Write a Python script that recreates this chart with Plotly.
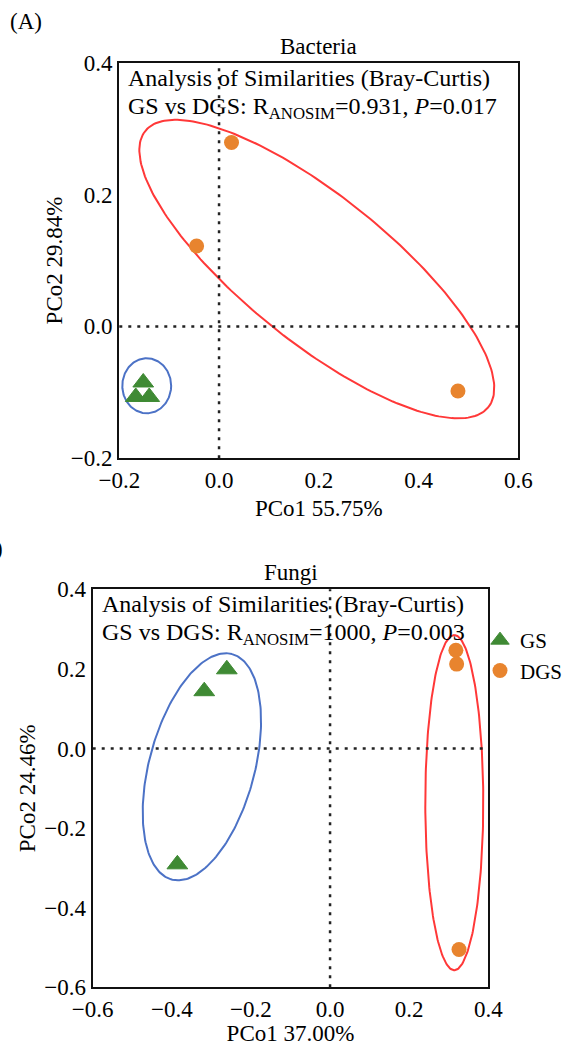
import numpy as np
import plotly.graph_objects as go

# ---------------- data ----------------
bac_gs_x = [-0.152, -0.167, -0.140]
bac_gs_y = [-0.085, -0.107, -0.107]
bac_dgs_x = [0.025, -0.045, 0.479]
bac_dgs_y = [0.279, 0.122, -0.098]

fun_gs_x = [-0.261, -0.318, -0.386]
fun_gs_y = [0.199, 0.144, -0.291]
fun_dgs_x = [0.318, 0.320, 0.326]
fun_dgs_y = [0.247, 0.212, -0.505]

# ellipse: centre (cx, cy) and two conjugate semi-diameters (ax, ay), (bx, by)
bac_gs_ell = [-0.145, -0.090, 0.049, 0.0, 0.0, 0.0417]
bac_dgs_ell = [0.196, 0.087, 0.3438, -0.2096, -0.0917, -0.0857]
fun_gs_ell = [-0.324, -0.046, 0.0763, 0.2832, 0.1287, -0.0343]
fun_dgs_ell = [0.314, -0.136, 0.0, 0.421, 0.0733, 0.0]

group_names = ["GS", "DGS"]
panel_titles = ["Bacteria", "Fungi"]
panel_letters = ["(A)", "(B)"]
x_titles = ["PCo1 55.75%", "PCo1 37.00%"]
y_titles = ["PCo2 29.84%", "PCo2 24.46%"]
stat_line1 = "Analysis of Similarities (Bray-Curtis)"
stat_line2 = ["GS vs DGS: R<sub>ANOSIM</sub>=0.931, <i>P</i>=0.017",
              "GS vs DGS: R<sub>ANOSIM</sub>=1000, <i>P</i>=0.003"]

GREEN = "#3f8a34"
ORANGE = "#e8842e"
BLUE = "#4c72c6"
RED = "#ff3838"
FONT = "Liberation Serif, Times New Roman, serif"
FS = 23
FS_STAT = 24

W, H = 570, 1046


def ellipse(p, n=240):
    t = np.linspace(0, 2 * np.pi, n)
    cx, cy, ax, ay, bx, by = p
    return cx + ax * np.cos(t) + bx * np.sin(t), cy + ay * np.cos(t) + by * np.sin(t)


fig = go.Figure()

panels = [
    dict(xa="x", ya="y", gs=(bac_gs_x, bac_gs_y), dgs=(bac_dgs_x, bac_dgs_y),
         ell=(bac_gs_ell, bac_dgs_ell), legend=False),
    dict(xa="x2", ya="y2", gs=(fun_gs_x, fun_gs_y), dgs=(fun_dgs_x, fun_dgs_y),
         ell=(fun_gs_ell, fun_dgs_ell), legend=True),
]

for p in panels:
    ex, ey = ellipse(p["ell"][0])
    fig.add_trace(go.Scatter(x=ex, y=ey, mode="lines", line=dict(color=BLUE, width=2),
                             xaxis=p["xa"], yaxis=p["ya"], showlegend=False, hoverinfo="skip"))
    ex, ey = ellipse(p["ell"][1])
    fig.add_trace(go.Scatter(x=ex, y=ey, mode="lines", line=dict(color=RED, width=2),
                             xaxis=p["xa"], yaxis=p["ya"], showlegend=False, hoverinfo="skip"))
    fig.add_trace(go.Scatter(x=p["gs"][0], y=p["gs"][1], mode="markers", name=group_names[0],
                             marker=dict(symbol="triangle-up", size=18, color=GREEN,
                                         line=dict(color=GREEN, width=1)),
                             xaxis=p["xa"], yaxis=p["ya"], showlegend=p["legend"]))
    fig.add_trace(go.Scatter(x=p["dgs"][0], y=p["dgs"][1], mode="markers", name=group_names[1],
                             marker=dict(symbol="circle", size=15, color=ORANGE),
                             xaxis=p["xa"], yaxis=p["ya"], showlegend=p["legend"]))

# dotted zero lines
for xa, ya in [("x", "y"), ("x2", "y2")]:
    fig.add_shape(type="line", xref=xa, yref=ya + " domain",
                  x0=0, x1=0, y0=0, y1=1, line=dict(color="#222", width=2.5, dash="3px,6px"))
    fig.add_shape(type="line", xref=xa + " domain", yref=ya, x0=0, x1=1, y0=0, y1=0,
                  line=dict(color="#222", width=2.5, dash="3px,6px"))

# domains (pixel based)
top_x = [119.3 / W, 518.3 / W]
top_y = [1 - 458.3 / H, 1 - 62.7 / H]
bot_x = [92.7 / W, 488.3 / W]
bot_y = [1 - 987.3 / H, 1 - 589.3 / H]

axis_common = dict(showline=True, mirror=True, linecolor="#111", linewidth=2.2,
                   showgrid=False, zeroline=False, ticks="", tickformat=".1f",
                   tickfont=dict(family=FONT, size=FS, color="black"), dtick=0.2)

fig.update_layout(
    width=W, height=H, autosize=False,
    margin=dict(l=0, r=0, t=0, b=0, autoexpand=False),
    plot_bgcolor="white", paper_bgcolor="white",
    font=dict(family=FONT, size=FS, color="black"),
    xaxis=dict(domain=top_x, range=[-0.2, 0.6], anchor="y", tick0=-0.2,
               title=dict(text=x_titles[0], font=dict(family=FONT, size=FS), standoff=8),
               **axis_common),
    yaxis=dict(domain=top_y, range=[-0.2, 0.4], anchor="x", tick0=-0.2,
               title=dict(text=y_titles[0], font=dict(family=FONT, size=FS), standoff=2),
               **axis_common),
    xaxis2=dict(domain=bot_x, range=[-0.6, 0.4], anchor="y2", tick0=-0.6,
                title=dict(text=x_titles[1], font=dict(family=FONT, size=FS), standoff=8),
                **axis_common),
    yaxis2=dict(domain=bot_y, range=[-0.6, 0.4], anchor="x2", tick0=-0.6,
                title=dict(text=y_titles[1], font=dict(family=FONT, size=FS), standoff=2),
                **axis_common),
    legend=dict(x=480 / W, y=1 - 620 / H, xanchor="left", yanchor="top",
                font=dict(family=FONT, size=21), bgcolor="rgba(0,0,0,0)",
                itemsizing="trace", tracegroupgap=0),
    showlegend=True,
)

for i, (xa, ya) in enumerate([("x", "y"), ("x2", "y2")]):
    fig.add_annotation(text=panel_titles[i], xref=xa + " domain", yref=ya + " domain",
                       x=0.5, y=1, xanchor="center", yanchor="bottom", yshift=2,
                       showarrow=False, font=dict(family=FONT, size=FS))
    fig.add_annotation(text=stat_line1, xref=xa + " domain", yref=ya + " domain",
                       x=0, y=1, xanchor="left", yanchor="top", xshift=7, yshift=0,
                       showarrow=False, font=dict(family=FONT, size=FS_STAT))
    fig.add_annotation(text=stat_line2[i], xref=xa + " domain", yref=ya + " domain",
                       x=0, y=1, xanchor="left", yanchor="top", xshift=7, yshift=-28,
                       showarrow=False, font=dict(family=FONT, size=FS_STAT))

fig.add_annotation(text=panel_letters[0], xref="paper", yref="paper", x=8 / W, y=1 - 21 / H,
                   xanchor="left", yanchor="middle", showarrow=False,
                   font=dict(family=FONT, size=FS))
fig.add_annotation(text=panel_letters[1], xref="paper", yref="paper", x=5 / W, y=1 - 548 / H,
                   xanchor="right", yanchor="middle", showarrow=False,
                   font=dict(family=FONT, size=FS))

fig.write_html("out.html", config={"displayModeBar": False},
               post_script="document.body.style.margin='0';document.body.style.overflow='hidden';")
